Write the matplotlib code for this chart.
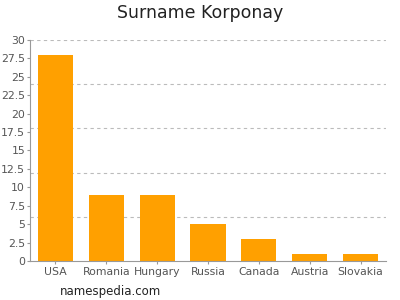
import matplotlib
matplotlib.use("Agg")
import matplotlib.pyplot as plt
import numpy as np

categories = ["USA", "Romania", "Hungary", "Russia", "Canada", "Austria", "Slovakia"]
values = [28, 9, 9, 5, 3, 1, 1]
yticks = [0, 2.5, 5, 7.5, 10, 12.5, 15, 17.5, 20, 22.5, 25, 27.5, 30]
ytick_labels = ["0", "2.5", "5", "7.5", "10", "12.5", "15", "17.5", "20", "22.5", "25", "27.5", "30"]
grid_levels = [6, 12, 18, 24, 30]

fig = plt.figure(figsize=(4, 3), dpi=100)
ax = fig.add_axes([0.075, 0.13, 0.89, 0.7367])
x = np.arange(len(categories))
for g in grid_levels:
    ax.axhline(g, color="#bbbbbb", linestyle=(0, (3, 3)), linewidth=0.8, zorder=0)
ax.bar(x, values, width=0.69, color="#ffa000", zorder=2)
ax.set_xlim(-0.5, len(categories) - 0.5)
ax.set_ylim(0, 30)
ax.set_yticks(yticks)
ax.set_yticklabels(ytick_labels)
ax.set_xticks(x)
ax.set_xticklabels(categories)
for s in ["top", "right"]:
    ax.spines[s].set_visible(False)
for s in ["left", "bottom"]:
    ax.spines[s].set_color("#999999")
    ax.spines[s].set_linewidth(0.8)
ax.tick_params(axis="both", colors="#999999", labelcolor="#555555", labelsize=7.8, length=2.5, width=0.8, pad=1)
ax.tick_params(axis="x", pad=2)
fig.text(0.5, 0.955, "Surname Korponay", ha="center", va="center", fontsize=12.5, color="#222222")
fig.text(0.15, 0.027, "namespedia.com", ha="left", va="center", fontsize=8.5, color="#222222")
fig.savefig("out.png", dpi=100)
